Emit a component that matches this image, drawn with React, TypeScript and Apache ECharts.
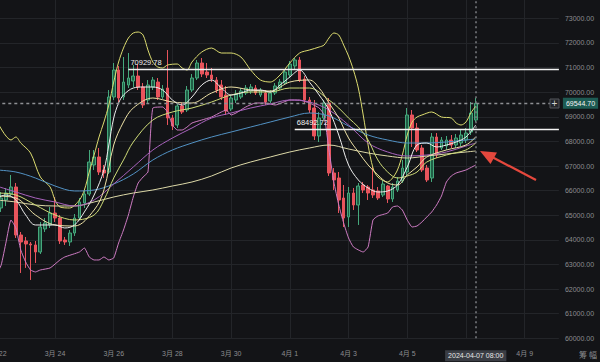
import React, { useEffect, useRef } from 'react';
import * as echarts from 'echarts';

const pad = (n: number) => (n < 10 ? '0' + n : '' + n);
const START = Date.UTC(2024, 2, 22, 0, 0);
const STEP = 4 * 3600 * 1000;
const SLOTS = 116;
const categories: string[] = [];
for (let k = 0; k < SLOTS; k++) {
  const d = new Date(START + k * STEP);
  categories.push(`${d.getUTCFullYear()}-${pad(d.getUTCMonth() + 1)}-${pad(d.getUTCDate())} ${pad(d.getUTCHours())}:00`);
}

// one label every 12 slots (2 days); the 4/7 one is covered by the crosshair label
const tickLabels = ['3月 22', '3月 24', '3月 26', '3月 28', '3月 30', '4月 1', '4月 3', '4月 5', '', '4月 9'];

// [open, close, low, high]
const candles: number[][] = [
  [65375, 65619, 65213, 65782], [65294, 65700, 65132, 65944], [65619, 65903, 65375, 66107], [65863, 66147, 65782, 66635],
  [66147, 64197, 64075, 66310], [64197, 63913, 62654, 64319], [63954, 63832, 62858, 64116], [63832, 63792, 62370, 63913],
  [63792, 63507, 63061, 63954], [63507, 64522, 63426, 64725], [64441, 64685, 64319, 64888], [64604, 65091, 64482, 65335],
  [65091, 64888, 64725, 65741], [64888, 63954, 63832, 65010], [63994, 63913, 63792, 64116], [63913, 64278, 63751, 64400],
  [64278, 64888, 64157, 65050], [64888, 65538, 64807, 65700], [65497, 65863, 65294, 66025], [65863, 67163, 65782, 67650],
  [67041, 67366, 66838, 67650], [67366, 66756, 66635, 67731], [66838, 66716, 66513, 67041], [66756, 69803, 66675, 70087],
  [69803, 70900, 69681, 71184], [70900, 69762, 69600, 71062], [69803, 70412, 69681, 71428], [70290, 70575, 70168, 71590],
  [70453, 70656, 70209, 71103], [70656, 70209, 70087, 71143], [70209, 69478, 69356, 70372], [69681, 70290, 69559, 70493],
  [70209, 70493, 70087, 70615], [70412, 69803, 69681, 70575], [69803, 70128, 69722, 70290], [70168, 68950, 68666, 71712],
  [68950, 68625, 68462, 69072], [68666, 69437, 68544, 69559], [69437, 69194, 69112, 69559], [69275, 70087, 69194, 70250],
  [70087, 70575, 70006, 70737], [70575, 71184, 70493, 71306], [71184, 70737, 70615, 71387], [70818, 70697, 70575, 71184],
  [70697, 70534, 70412, 70981], [70493, 70087, 69965, 70615], [70290, 69803, 69681, 70493], [69884, 69234, 69072, 70250],
  [69315, 69762, 69234, 69884], [69681, 69925, 69559, 70087], [69803, 70047, 69722, 70168], [69965, 70168, 69884, 70290],
  [70047, 70209, 69925, 70331], [70168, 69965, 69884, 70290], [69884, 70087, 69803, 70168], [69965, 69600, 69478, 70087],
  [69640, 69965, 69559, 70087], [69965, 70250, 69884, 70372], [70168, 70412, 70087, 70534], [70372, 70818, 70290, 70900],
  [70697, 71143, 70575, 71265], [71062, 71306, 70900, 71387], [71306, 70493, 70412, 71428], [70534, 69681, 69519, 70656],
  [69681, 69275, 69153, 69803], [69356, 68219, 68056, 69681], [68219, 68950, 67975, 69194], [68950, 69559, 68869, 69681],
  [69559, 66716, 66594, 69762], [66716, 66432, 66025, 66919], [66513, 65619, 65091, 66756], [65700, 64888, 64522, 66228],
  [64929, 65903, 64522, 66147], [65903, 65416, 65213, 66107], [65416, 66188, 64604, 66310], [66228, 66025, 65903, 66350],
  [66147, 65903, 65619, 66228], [66025, 65822, 65700, 66960], [65985, 65700, 65619, 66147], [65822, 66269, 65741, 66432],
  [66188, 65660, 65497, 66228], [65660, 66147, 65538, 66310], [66025, 66391, 65944, 66553], [66391, 66919, 66310, 67244],
  [66756, 69072, 66635, 69356], [69072, 68544, 67772, 69275], [68544, 67650, 67569, 68747], [67731, 66838, 66756, 67853],
  [66919, 66432, 66350, 67041], [66513, 68178, 66350, 68340], [68178, 67447, 67325, 68340], [67731, 68056, 67650, 68178],
  [67812, 68056, 67650, 68219], [68056, 67853, 67731, 68259], [67853, 68137, 67731, 68300], [67934, 68259, 67812, 68462],
  [68056, 68340, 67934, 68544], [68381, 69153, 68259, 69600], [68869, 69544.7, 68787, 69762],
];

// lines read at sampled candle indices: [index, price]
const whiteLine = [
  [0, 65700], [2, 65822], [4, 65619], [6, 65010], [8, 64604], [12, 64604], [14, 64482], [16, 64604], [18, 65132],
  [20, 65822], [22, 66838], [23, 67853], [24, 68950], [25, 69559], [26, 69884], [28, 70168], [30, 70209], [32, 70209],
  [34, 70087], [36, 69681], [38, 69478], [40, 69803], [42, 70290], [44, 70493], [46, 70168], [48, 69884], [50, 69965],
  [52, 70087], [54, 70087], [56, 70006], [58, 70290], [60, 70615], [62, 70900], [64, 70412], [66, 69884], [68, 69275],
  [70, 68259], [72, 67041], [74, 66432], [76, 66107], [78, 65944], [80, 65985], [82, 66228], [84, 66960], [86, 67853],
  [88, 67934], [90, 67772], [92, 67853], [94, 67975], [96, 68178], [98, 68666],
];
const creamLine = [
  [0, 65782], [4, 65700], [8, 65010], [12, 64604], [16, 64563], [20, 65213], [22, 66025], [24, 67853], [26, 68787],
  [28, 69356], [32, 69762], [36, 69600], [40, 69559], [44, 69965], [48, 70209], [52, 70087], [56, 70047], [60, 70412],
  [64, 70493], [66, 70168], [68, 69559], [70, 68950], [72, 68137], [74, 67569], [76, 67041], [78, 66635], [80, 66310],
  [82, 66228], [84, 66635], [86, 66960], [88, 67366], [92, 67650], [96, 67853], [98, 68178],
];
const yellowLine = [
  [0, 65903], [4, 65822], [8, 65416], [12, 65010], [16, 64807], [20, 65010], [22, 65619], [24, 66513], [26, 67244],
  [28, 67975], [32, 68869], [36, 69194], [40, 69356], [44, 69600], [48, 69884], [52, 70006], [56, 70006], [60, 70168],
  [64, 70168], [68, 69681], [70, 69356], [72, 68950], [74, 68584], [76, 68056], [78, 67244], [80, 66756], [82, 66513],
  [84, 66594], [86, 66756], [88, 67163], [92, 67447], [96, 67650], [98, 67934],
];
const purpleLine = [
  [0, 66188], [4, 65944], [8, 65700], [12, 65538], [16, 65375], [20, 65619], [24, 66269], [28, 66960], [32, 67650],
  [36, 68137], [40, 68544], [44, 68950], [48, 69153], [52, 69356], [56, 69519], [60, 69681], [64, 69600], [68, 69275],
  [72, 68666], [76, 67934], [80, 67569], [84, 67406], [88, 67447], [92, 67569], [96, 67812], [98, 67934],
];
const blueLine = [
  [0, 66838], [4, 66756], [8, 66513], [12, 66188], [16, 65985], [20, 66025], [24, 66269], [28, 66675], [32, 67244],
  [36, 67650], [40, 67934], [44, 68178], [48, 68381], [52, 68584], [56, 68787], [60, 68990], [64, 69153], [68, 69031],
  [72, 68625], [76, 68259], [80, 68056], [84, 67934], [88, 67934], [92, 67975], [96, 68056], [98, 68097],
];
const paleLine = [
  [0, 65619], [4, 65538], [8, 65416], [12, 65375], [16, 65375], [20, 65538], [24, 65741], [28, 65903], [32, 66025],
  [36, 66188], [40, 66350], [44, 66594], [48, 66919], [52, 67163], [56, 67366], [60, 67569], [64, 67731], [68, 67853],
  [72, 67691], [76, 67528], [80, 67406], [84, 67325], [88, 67406], [92, 67488], [96, 67569], [98, 67609],
];
const upperBand = [
  [0, 68869], [3, 68056], [4, 68178], [5, 67934], [7, 67528], [9, 66553], [11, 66147], [12, 65619], [13, 65335],
  [15, 65294], [17, 65619], [18, 66025], [19, 66756], [20, 67447], [21, 68178], [22, 68787], [23, 69478], [24, 70412],
  [25, 71225], [26, 71793], [27, 72199], [28, 72403], [29, 72443], [30, 72321], [31, 71712], [32, 71225], [33, 71022],
  [34, 70981], [35, 71103], [37, 71143], [38, 70981], [39, 70900], [40, 71225], [42, 71631], [44, 71793], [46, 71590],
  [48, 71590], [50, 71428], [52, 70900], [54, 70493], [56, 70412], [58, 70697], [60, 71184], [62, 71590], [64, 71712],
  [66, 71834], [67, 71915], [68, 72199], [69, 72403], [70, 72321], [71, 71915], [72, 71468], [73, 70900], [74, 70168],
  [75, 69072], [76, 67853], [77, 66919], [78, 66553], [80, 66350], [81, 66513], [82, 66838], [83, 67447], [84, 68259],
  [85, 68787], [86, 68990], [87, 69072], [89, 69194], [91, 68990], [93, 68950], [94, 68747], [95, 68666], [96, 68787],
  [97, 69153], [98, 69437],
];
const lowerBand = [
  [0, 62572], [1, 62979], [2, 63913], [3, 64807], [4, 64482], [5, 63588], [6, 63101], [7, 62776], [8, 62695],
  [9, 62776], [11, 62858], [13, 63182], [14, 63304], [17, 63507], [18, 63670], [19, 63304], [20, 63182], [21, 63182],
  [22, 63304], [23, 63182], [24, 63264], [25, 63873], [26, 64400], [27, 65010], [28, 65741], [29, 66310], [30, 66553],
  [31, 66756], [32, 69356], [34, 69397], [35, 69194], [36, 68666], [37, 68462], [38, 68462], [39, 68584], [40, 68747],
  [42, 68869], [44, 68990], [46, 69194], [47, 69275], [48, 69072], [49, 69153], [51, 69397], [53, 69559], [55, 69559],
  [57, 69478], [60, 69681], [62, 69681], [64, 69559], [66, 69356], [67, 69072], [68, 67650], [69, 66350], [70, 65416],
  [71, 64685], [72, 64075], [73, 63711], [75, 63507], [76, 63711], [77, 64807], [78, 64969], [80, 65091], [81, 65335],
  [82, 65375], [83, 65213], [84, 64807], [85, 64522], [86, 64563], [87, 64725], [88, 64929], [89, 65132], [90, 65416],
  [91, 65782], [92, 66350], [93, 66594], [94, 66716], [96, 66838], [98, 67041],
];

const lastPrice = 69544.7;
const levelHigh = 70929.78;
const levelLow = 68492.72;
const levelHighStart = 27;
const levelLowStart = 61;
const crossIndex = 98;
const crossLabel = '2024-04-07 08:00';

const FONT = 'Liberation Sans, "Noto Sans CJK SC", sans-serif';
const AXIS_TEXT = '#8c8d90';
const GRID = '#232529';

const lineSeries = (name: string, data: number[][], color: string, smooth: number | boolean = 0.35) => ({
  name,
  type: 'line',
  data,
  symbol: 'none',
  smooth,
  silent: true,
  lineStyle: { color, width: 1 },
  z: 3,
});

export default function App() {
  const ref = useRef<HTMLDivElement>(null);
  useEffect(() => {
    document.body.style.margin = '0';
    document.body.style.background = '#131417';
    const chart = echarts.init(ref.current!, undefined, { renderer: 'svg' });
    const option: any = {
      animation: false,
      backgroundColor: '#131417',
      textStyle: { fontFamily: FONT },
      grid: { left: -3.7, right: 41.1, top: -6.3, bottom: 23.7, containLabel: false, outerBoundsMode: 'none' },
      xAxis: {
        type: 'category',
        data: categories,
        boundaryGap: false,
        axisLine: { show: false },
        axisTick: { show: false },
        axisLabel: {
          interval: (i: number) => i % 12 === 0,
          formatter: (_v: string, i: number) => tickLabels[i / 12] ?? '',
          color: AXIS_TEXT,
          fontSize: 7,
          margin: 12,
          fontFamily: FONT,
        },
        splitLine: { show: true, interval: (i: number) => i % 12 === 0, lineStyle: { color: GRID, width: 1 } },
      },
      yAxis: {
        type: 'value',
        position: 'right',
        min: 60000,
        max: 74000,
        interval: 1000,
        axisLine: { show: false },
        axisTick: { show: false },
        axisLabel: {
          formatter: (v: number) => v.toFixed(2),
          color: AXIS_TEXT,
          fontSize: 7,
          margin: 6,
          showMaxLabel: false,
          fontFamily: FONT,
        },
        splitLine: { lineStyle: { color: GRID, width: 1 } },
      },
      series: [
        {
          name: 'K',
          type: 'candlestick',
          data: candles,
          barWidth: 3.2,
          z: 2,
          itemStyle: {
            color: '#1f5e45',
            borderColor: '#45a87c',
            color0: '#e8545c',
            borderColor0: '#e8545c',
            borderWidth: 1,
          },
          markLine: {
            silent: true,
            symbol: ['none', 'none'],
            animation: false,
            data: [
              {
                yAxis: lastPrice,
                lineStyle: { color: '#8e9094', width: 1.3, type: [3, 3] },
                label: {
                  position: 'end',
                  formatter: lastPrice.toFixed(2),
                  color: '#f2f2f2',
                  backgroundColor: '#1d5b53',
                  padding: [2, 3],
                  fontSize: 7,
                  distance: 4,
                  fontFamily: FONT,
                },
              },
              {
                xAxis: crossIndex,
                lineStyle: { color: '#7d7f83', width: 1.5, type: [2, 3] },
                label: {
                  position: 'start',
                  formatter: crossLabel,
                  color: '#e6e6e6',
                  backgroundColor: '#3a3d44',
                  padding: [2, 3],
                  fontSize: 7,
                  distance: 12,
                  fontFamily: FONT,
                },
              },
              [
                {
                  coord: [levelHighStart, levelHigh],
                  lineStyle: { color: '#f4f4f4', width: 1.3, type: 'solid' },
                  label: {
                    position: 'insideStartTop',
                    formatter: levelHigh.toFixed(2),
                    color: '#f0f0f0',
                    fontSize: 7.5,
                    distance: [2, 3],
                    fontFamily: FONT,
                  },
                },
                { coord: [SLOTS - 1, levelHigh] },
              ],
              [
                {
                  coord: [levelLowStart, levelLow],
                  lineStyle: { color: '#f4f4f4', width: 1.3, type: 'solid' },
                  label: {
                    position: 'insideStartTop',
                    formatter: levelLow.toFixed(2),
                    color: '#f0f0f0',
                    fontSize: 7.5,
                    distance: [2, 3],
                    fontFamily: FONT,
                  },
                },
                { coord: [SLOTS - 1, levelLow] },
              ],
            ],
          },
        },
        lineSeries('BOLL-UP', upperBand, '#dcdc70', 0.3),
        lineSeries('BOLL-DN', lowerBand, '#cf7cc4', 0.15),
        lineSeries('MA120', paleLine, '#ddd9a8'),
        lineSeries('MA60', blueLine, '#5292c4'),
        lineSeries('MA30', purpleLine, '#a862bd'),
        lineSeries('MA20', yellowLine, '#cfdc78'),
        lineSeries('MA10', creamLine, '#eee2a6'),
        lineSeries('MA5', whiteLine, '#ededed'),
      ],
      graphic: [
        {
          type: 'rect',
          shape: { x: 550, y: 99, width: 9, height: 9 },
          style: { fill: '#25272b', stroke: '#55575c', lineWidth: 1 },
          z: 10,
        },
        {
          type: 'text',
          x: 554.5,
          y: 103.5,
          style: { text: '+', fill: '#d0d0d0', fontSize: 10, align: 'center', verticalAlign: 'middle', fontFamily: FONT },
          z: 11,
        },
        {
          type: 'line',
          shape: { x1: 536, y1: 180, x2: 492, y2: 157 },
          style: { stroke: '#e5483d', lineWidth: 2.2 },
          z: 10,
        },
        {
          type: 'polygon',
          shape: { points: [[480, 151], [497, 152.5], [490.5, 164]] },
          style: { fill: '#e5483d' },
          z: 10,
        },
        {
          type: 'text',
          x: 588,
          y: 355,
          style: { text: '筹 幅', fill: '#8c8d90', fontSize: 8, align: 'center', verticalAlign: 'middle', fontFamily: FONT },
          z: 10,
        },
      ],
    };
    chart.setOption(option);
    return () => chart.dispose();
  }, []);
  return <div ref={ref} style={{ position: 'absolute', left: 0, top: 0, width: 600, height: 362 }} />;
}
